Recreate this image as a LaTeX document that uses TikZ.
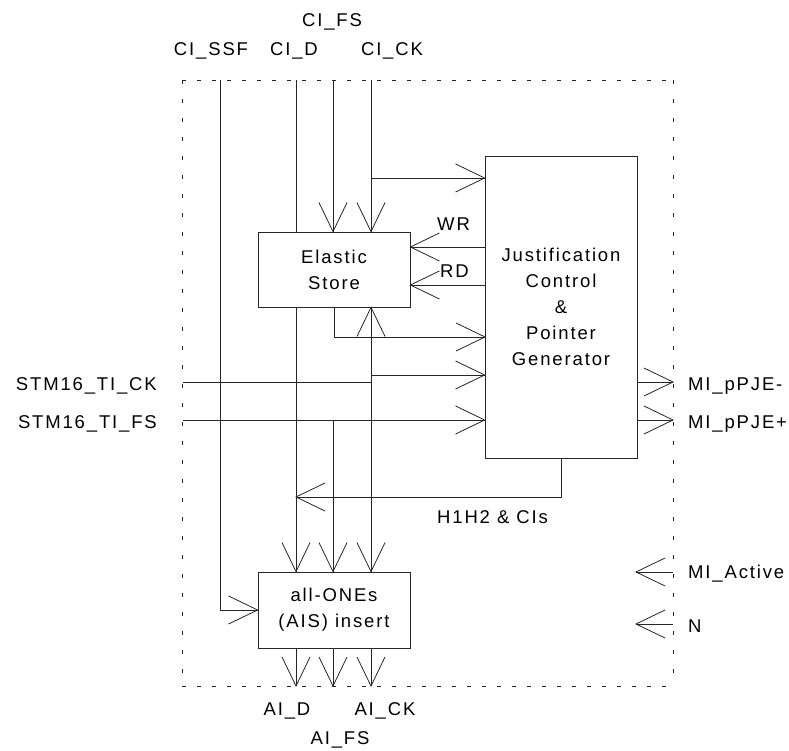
\documentclass[tikz,border=0pt]{standalone}
\usepackage{fontspec}
\setmainfont{Liberation Sans}[LetterSpace=10]
\usetikzlibrary{arrows.meta}
\pgfdeclarearrow{
  name = OpenVee,
  parameters = {\the\pgfarrowlength,\the\pgfarrowwidth},
  setup code = {
    \pgfarrowssettipend{0pt}
    \pgfarrowssetlineend{0pt}
    \pgfarrowssetvisualbackend{-\pgfarrowlength}
    \pgfarrowssetbackend{-\pgfarrowlength}
    \pgfarrowsupperhullpoint{-\pgfarrowlength}{.5\pgfarrowwidth}
    \pgfarrowsupperhullpoint{0pt}{0pt}
    \pgfarrowssavethe\pgfarrowlength
    \pgfarrowssavethe\pgfarrowwidth
  },
  drawing code = {
    \pgfsetdash{}{0pt}
    \pgfsetmiterjoin
    \pgfsetbuttcap
    \pgfpathmoveto{\pgfqpoint{-\pgfarrowlength}{.5\pgfarrowwidth}}
    \pgfpathlineto{\pgfpointorigin}
    \pgfpathlineto{\pgfqpoint{-\pgfarrowlength}{-.5\pgfarrowwidth}}
    \pgfusepathqstroke
  },
  defaults = {length=29pt, width=28pt}
}
\begin{document}
\begin{tikzpicture}[x=1pt,y=-1pt,
  every node/.style={font=\fontsize{18.5}{26}\selectfont, inner sep=0pt},
  ln/.style={line width=0.8pt, draw=black!85},
  arr/.style={ln, -{OpenVee[length=29pt,width=28pt]}},
  blk/.style={ln, fill=white, rectangle, align=center},
  lbl/.style={anchor=base}]
\useasboundingbox (0,0) rectangle (789,751);
% boundary
\draw[ln, dash pattern=on 4pt off 11pt] (182,80) -- (673,80);
\draw[ln, dash pattern=on 4pt off 11pt] (182,686) -- (673,686);
\draw[ln, dash pattern=on 4pt off 15pt] (182,80) -- (182,686);
\draw[ln, dash pattern=on 4pt off 15pt] (673,80) -- (673,686);
% blocks
\node[blk, minimum width=152pt, minimum height=75pt] (es) at (334,269.5) {Elastic\\Store};
\node[blk, minimum width=152pt, minimum height=302pt] (jc) at (561,307) {Justification\\Control\\\&\\Pointer\\Generator};
\node[blk, minimum width=152pt, minimum height=76pt] (ais) at (334,610) {all-ONEs\\(AIS) insert};
% coordinates
\coordinate (ssfT) at (220,80);
\coordinate (dT) at (296,80);
\coordinate (fsT) at (333,80);
\coordinate (ckT) at (371,80);
\coordinate (ckbr) at (371,178);
\coordinate (esout) at (485,337);
\coordinate (ckj) at (371,382);
\coordinate (ckbr2) at (371,375);
\coordinate (stmck) at (183,382);
\coordinate (stmfs) at (183,420);
\coordinate (fsj) at (333,420);
\coordinate (hd) at (296,497);
\coordinate (wr) at (485,247);
\coordinate (rd) at (485,285);
\coordinate (pjm) at (673,382);
\coordinate (pjp) at (673,420);
\coordinate (act) at (673,572);
\coordinate (nn) at (673,624);
\coordinate (actt) at (636,572);
\coordinate (nnt) at (636,624);
% top inputs
\draw[arr] (ssfT) |- (ais.west);
\draw[ln] (dT) -- (dT |- es.north);
\draw[arr] (dT |- es.south) -- (dT |- ais.north);
\draw[arr] (fsT) -- (fsT |- es.north);
\draw[arr] (ckT) -- (ckT |- es.north);
\draw[arr] (ckbr) -- (jc.west |- ckbr);
% ES out
\draw[arr] (es.south) |- (esout);
% read/write
\draw[arr] (wr) -- (es.east |- wr);
\draw[arr] (rd) -- (es.east |- rd);
% STM16 clock
\draw[ln] (stmck) -- (ckj);
\draw[arr] (ckj) -- (ckj |- es.south);
\draw[arr] (ckj) -- (ckj |- ais.north);
\draw[arr] (ckbr2) -- (jc.west |- ckbr2);
% STM16 frame start
\draw[arr] (stmfs) -- (jc.west |- stmfs);
\draw[arr] (fsj) -- (fsj |- ais.north);
% H1H2
\draw[arr] (jc.south) |- (hd);
% outputs
\draw[arr] (jc.east |- pjm) -- (pjm);
\draw[arr] (jc.east |- pjp) -- (pjp);
\draw[arr] (act) -- (actt);
\draw[arr] (nn) -- (nnt);
\draw[arr] (ais.south -| dT) -- (dT |- 0,686);
\draw[arr] (ais.south -| fsT) -- (fsT |- 0,686);
\draw[arr] (ais.south -| ckT) -- (ckT |- 0,686);
% labels
\node[lbl] (lssf) at (211,56) {CI\_SSF};
\node[lbl] (ld) at (294,56) {CI\_D};
\node[lbl] (lfs) at (332,27) {CI\_FS};
\node[lbl] (lck) at (392,56) {CI\_CK};
\node[anchor=base east] (lstmck) at (157,390) {STM16\_TI\_CK};
\node[anchor=base east] (lstmfs) at (157,428) {STM16\_TI\_FS};
\node[anchor=base west] (lwr) at (437,231) {WR};
\node[anchor=base west] (lrd) at (440,277) {RD};
\node[anchor=base west] (lh) at (437,523) {H1H2 \& CIs};
\node[anchor=base west] (lpjm) at (688,390) {MI\_pPJE-};
\node[anchor=base west] (lpjp) at (688,428) {MI\_pPJE+};
\node[anchor=base west] (lact) at (688,578) {MI\_Active};
\node[anchor=base west] (ln) at (688,632) {N};
\node[lbl] (lad) at (287,715) {AI\_D};
\node[lbl] (lack) at (385,715) {AI\_CK};
\node[lbl] (lafs) at (340,744) {AI\_FS};
\end{tikzpicture}
\end{document}
